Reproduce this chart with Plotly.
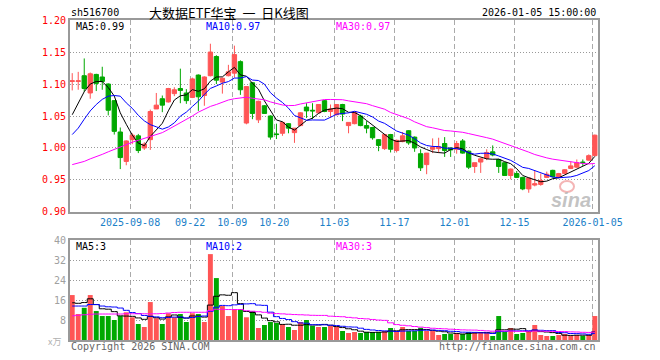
import plotly.graph_objects as go
import pandas as pd

# ---------------- data ----------------
holidays = ["2025-10-01", "2025-10-02", "2025-10-03", "2025-10-06", "2025-10-07",
            "2025-10-08", "2026-01-01", "2026-01-02"]
dates = [d.strftime("%Y-%m-%d") for d in pd.bdate_range("2025-08-25", "2026-01-05")
         if d.strftime("%Y-%m-%d") not in holidays]

opens = [1.104, 1.104, 1.113, 1.086, 1.115, 1.111, 1.100, 1.074, 1.025, 0.979,
         1.013, 1.019, 1.000, 1.013, 1.061, 1.077, 1.072, 1.085, 1.093, 1.086,
         1.079, 1.114, 1.082, 1.113, 1.143, 1.103, 1.113, 1.117, 1.135, 1.039,
         1.102, 1.044, 1.066, 1.050, 1.022, 1.023, 1.038, 1.024, 1.035, 1.064,
         1.059, 1.055, 1.074, 1.057, 1.052, 1.068, 1.035, 1.038, 1.050, 1.035,
         1.032, 1.013, 0.999, 1.021, 0.996, 1.010, 1.027, 1.017, 0.991, 0.974,
         0.998, 0.999, 1.007, 1.000, 0.998, 1.011, 0.995, 0.971, 0.978, 0.984,
         0.994, 0.982, 0.977, 0.957, 0.960, 0.954, 0.936, 0.942, 0.943, 0.954,
         0.965, 0.954, 0.960, 0.968, 0.970, 0.978, 0.981, 0.988]
highs = [1.117, 1.119, 1.140, 1.118, 1.116, 1.127, 1.101, 1.075, 1.032, 1.012,
         1.023, 1.022, 1.009, 1.060, 1.086, 1.082, 1.094, 1.095, 1.124, 1.092,
         1.110, 1.115, 1.112, 1.163, 1.145, 1.110, 1.130, 1.160, 1.137, 1.096,
         1.103, 1.074, 1.067, 1.051, 1.038, 1.041, 1.039, 1.031, 1.056, 1.070,
         1.070, 1.068, 1.075, 1.068, 1.068, 1.069, 1.040, 1.056, 1.052, 1.042,
         1.033, 1.014, 1.021, 1.022, 1.013, 1.025, 1.028, 1.018, 0.998, 0.992,
         1.015, 1.016, 1.017, 1.001, 1.011, 1.014, 0.996, 0.977, 0.984, 0.998,
         1.004, 0.983, 0.978, 0.968, 0.964, 0.955, 0.954, 0.965, 0.960, 0.963,
         0.966, 0.961, 0.967, 0.979, 0.982, 0.982, 0.990, 1.021]
lows = [1.090, 1.091, 1.088, 1.077, 1.089, 1.091, 1.051, 1.021, 0.967, 0.973,
        1.006, 0.992, 0.997, 0.997, 1.061, 1.056, 1.071, 1.081, 1.070, 1.069,
        1.078, 1.058, 1.066, 1.112, 1.100, 1.085, 1.112, 1.110, 1.083, 1.037,
        1.045, 1.039, 1.054, 1.013, 1.014, 1.019, 1.023, 1.008, 1.034, 1.047,
        1.045, 1.054, 1.056, 1.047, 1.051, 1.042, 1.023, 1.037, 1.034, 1.023,
        1.013, 0.995, 0.997, 0.993, 0.993, 1.009, 1.005, 0.994, 0.964, 0.959,
        0.992, 0.992, 0.986, 0.986, 0.991, 0.991, 0.967, 0.961, 0.961, 0.981,
        0.987, 0.961, 0.957, 0.951, 0.953, 0.934, 0.930, 0.940, 0.941, 0.953,
        0.954, 0.953, 0.959, 0.967, 0.969, 0.972, 0.980, 0.987]
closes = [1.105, 1.105, 1.093, 1.116, 1.101, 1.104, 1.059, 1.026, 0.985, 1.011,
          1.020, 0.996, 1.006, 1.057, 1.067, 1.067, 1.093, 1.091, 1.090, 1.074,
          1.108, 1.080, 1.111, 1.150, 1.106, 1.109, 1.119, 1.146, 1.091, 1.096,
          1.054, 1.073, 1.054, 1.017, 1.021, 1.040, 1.031, 1.031, 1.055, 1.058,
          1.058, 1.068, 1.057, 1.061, 1.068, 1.053, 1.040, 1.056, 1.035, 1.031,
          1.016, 1.004, 1.021, 0.998, 1.012, 1.019, 1.008, 1.000, 0.969, 0.992,
          1.001, 1.002, 0.996, 0.997, 1.007, 0.992, 0.970, 0.977, 0.983, 0.993,
          0.989, 0.971, 0.957, 0.967, 0.954, 0.936, 0.953, 0.944, 0.949, 0.959,
          0.955, 0.960, 0.966, 0.972, 0.977, 0.977, 0.988, 1.020]
volumes = [18.0, 10.4, 12.9, 18.0, 11.6, 9.6, 9.6, 8.0, 9.6, 11.1,
           9.1, 6.4, 5.2, 15.2, 8.7, 6.4, 10.7, 9.1, 10.4, 7.2,
           10.7, 10.4, 7.2, 34.4, 24.8, 13.6, 9.6, 12.4, 12.4, 9.1,
           11.6, 4.8, 6.0, 7.2, 6.8, 6.4, 5.2, 4.0, 7.2, 8.0,
           5.6, 5.2, 5.2, 5.6, 5.3, 3.6, 2.8, 3.2, 2.8, 3.2,
           3.2, 3.2, 3.6, 4.8, 3.6, 5.2, 3.6, 3.6, 4.9, 3.6,
           3.6, 2.0, 2.4, 2.4, 2.8, 2.4, 3.2, 3.2, 3.2, 2.8,
           1.6, 9.6, 3.2, 4.8, 2.4, 2.8, 3.6, 6.0, 2.0, 1.6,
           1.6, 2.0, 2.4, 1.6, 2.0, 1.6, 2.0, 9.6]

# moving-average values before enough in-window history exists
ma5_head = [1.052, 1.070, 1.088, 1.100]
ma10_head = [1.021, 1.031, 1.045, 1.058, 1.068, 1.076, 1.081, 1.082, 1.081]
ma30_head = [0.974, 0.976, 0.979, 0.983, 0.986, 0.990, 0.994, 0.998, 1.002, 1.006,
             1.009, 1.012, 1.015, 1.017, 1.020, 1.024, 1.029, 1.034, 1.039, 1.045,
             1.050, 1.056, 1.061, 1.065, 1.068, 1.072, 1.075, 1.077, 1.078]
vma5_head = [14.9, 14.7, 15.0, 16.5]
vma10_head = [13.6, 13.6, 13.6, 14.2, 14.2, 13.6, 13.3, 13.2, 12.8]
vma30_head = [9.7, 9.9, 10.1, 10.3, 10.4, 10.4, 10.4, 10.4, 10.4, 10.5,
              10.5, 10.5, 10.5, 10.5, 10.5, 10.6, 10.8, 11.0, 11.1, 11.1,
              11.1, 11.1, 11.1, 11.8, 12.3, 12.3, 12.2, 12.2, 12.2]

# values shown in the chart's MA captions
price_ma_labels = ["MA5:0.99", "MA10:0.97", "MA30:0.97"]
vol_ma_labels = ["MA5:3", "MA10:2", "MA30:3"]

tick_labels = ["2025-09-08", "09-22", "10-09", "10-20", "11-03", "11-17",
               "12-01", "12-15", "2026-01-05"]
tick_dates = ["2025-09-08", "2025-09-22", "2025-10-09", "2025-10-20", "2025-11-03",
              "2025-11-17", "2025-12-01", "2025-12-15", "2026-01-05"]
price_ticks = [0.90, 0.95, 1.00, 1.05, 1.10, 1.15, 1.20]
vol_ticks = [8, 16, 24, 32, 40]


def moving_average(vals, n, head):
    out = list(head)
    for i in range(len(head), len(vals)):
        w = vals[i - n + 1:i + 1]
        out.append(sum(w) / len(w))
    return out


ma5 = moving_average(closes, 5, ma5_head)
ma10 = moving_average(closes, 10, ma10_head)
ma30 = moving_average(closes, 30, ma30_head)
vma5 = moving_average(volumes, 5, vma5_head)
vma10 = moving_average(volumes, 10, vma10_head)
vma30 = moving_average(volumes, 30, vma30_head)

# ---------------- styling ----------------
RED = "#ff5555"
GREEN = "#00a800"
MONO = "DejaVu Sans Mono"
CJK = "Noto Sans CJK SC"
GRIDOFF = -0.37
n = len(closes)
idx = list(range(n))
tickpos = [dates.index(d) + GRIDOFF for d in tick_dates]
xrange_ = [-0.37, n - 0.47]

fig = go.Figure()
fig.add_trace(go.Candlestick(
    x=idx, open=opens, high=highs, low=lows, close=closes,
    increasing=dict(line=dict(color=RED, width=1), fillcolor=RED),
    decreasing=dict(line=dict(color=GREEN, width=1), fillcolor=GREEN),
    whiskerwidth=0, hoverinfo="skip", xaxis="x", yaxis="y"))
for vals, col in [(ma5, "black"), (ma10, "#0000ff"), (ma30, "#ff00ff")]:
    fig.add_trace(go.Scatter(x=idx, y=vals, mode="lines",
                             line=dict(color=col, width=1), hoverinfo="skip",
                             xaxis="x", yaxis="y"))

vcolors = [RED if c >= o else GREEN for o, c in zip(opens, closes)]
fig.add_trace(go.Bar(x=idx, y=volumes, marker=dict(color=vcolors, line=dict(width=0)),
                     width=0.82, hoverinfo="skip", xaxis="x2", yaxis="y2"))
for vals, col in [(vma5, "black"), (vma10, "#0000ff"), (vma30, "#ff00ff")]:
    fig.add_trace(go.Scatter(x=idx, y=vals, mode="lines",
                             line=dict(color=col, width=1, shape="hvh"),
                             hoverinfo="skip", xaxis="x2", yaxis="y2"))

common_x = dict(range=xrange_, tickvals=tickpos, showgrid=True, gridcolor="#aaaaaa",
                griddash="5px,3px", gridwidth=1, showline=True, mirror=True,
                linecolor="#999999", linewidth=2, ticks="", zeroline=False,
                fixedrange=True)
common_y = dict(showgrid=True, gridcolor="#999999", griddash="1px,2px", gridwidth=1,
                showline=True, mirror=True, linecolor="#999999", linewidth=2,
                ticks="", zeroline=False, fixedrange=True)

fig.update_layout(
    width=660, height=360, autosize=False,
    margin=dict(l=70, r=62, t=20, b=20),
    paper_bgcolor="white", plot_bgcolor="white",
    showlegend=False, boxgap=0.28, boxgroupgap=0,
    xaxis=dict(**common_x, anchor="y", ticktext=tick_labels,
               tickfont=dict(family=MONO, size=10, color="#1a80c8"),
               rangeslider=dict(visible=False)),
    yaxis=dict(**common_y, domain=[0.4, 1.0], range=[0.8999, 1.2001],
               tickvals=price_ticks, ticktext=[f"{v:.2f}" for v in price_ticks],
               tickfont=dict(family=MONO, size=10, color="#ff0000")),
    xaxis2=dict(**common_x, anchor="y2", showticklabels=False),
    yaxis2=dict(**common_y, domain=[0.0, 0.3125], range=[0, 40.05],
                tickvals=vol_ticks, ticktext=[str(v) for v in vol_ticks],
                tickfont=dict(family=MONO, size=10, color="#a0a0a0")),
)


def px(x):
    return (x - 70) / 528


def py(y):
    return (340 - y) / 320


def note(text, x, y, color="black", anchor="left", size=10, family=MONO):
    fig.add_annotation(text=text, x=px(x), y=py(y), xref="paper", yref="paper",
                       xanchor=anchor, yanchor="middle", showarrow=False,
                       font=dict(family=family, size=size, color=color))


note("sh516700", 69, 13)
note("大数据ETF华宝&nbsp;&nbsp;一&nbsp;&nbsp;日K线图", 229, 12, anchor="center",
     size=13, family=CJK)
note("2026-01-05 15:00:00", 598, 13, anchor="right")
note(price_ma_labels[0], 74, 26)
note(price_ma_labels[1], 204, 26, color="#0000ff")
note(price_ma_labels[2], 334, 26, color="#ff00ff")
note(vol_ma_labels[0], 74, 246)
note(vol_ma_labels[1], 204, 246, color="#0000ff")
note(vol_ma_labels[2], 334, 246, color="#ff00ff")
note("x万", 63, 341, color="#b0b0b0", anchor="right", size=9, family=CJK)
note("Copyright 2026 SINA.COM", 69, 346, color="#666666")
note("http://finance.sina.com.cn", 598, 346, color="#666666", anchor="right")

# sina watermark
fig.add_annotation(text="<b><i>sina</i></b>", x=px(571), y=py(200), xref="paper",
                   yref="paper", showarrow=False, xanchor="center", yanchor="middle",
                   font=dict(family="Liberation Sans", size=20, color="rgba(185,185,185,0.85)"))
fig.add_shape(type="circle", xref="paper", yref="paper",
              x0=px(560), x1=px(574), y0=py(192), y1=py(181),
              line=dict(color="rgba(240,150,150,0.7)", width=2))

fig.write_html("out.html",
               config={"displayModeBar": False, "staticPlot": True},
               post_script="document.body.style.margin='0';document.body.style.overflow='hidden';")
